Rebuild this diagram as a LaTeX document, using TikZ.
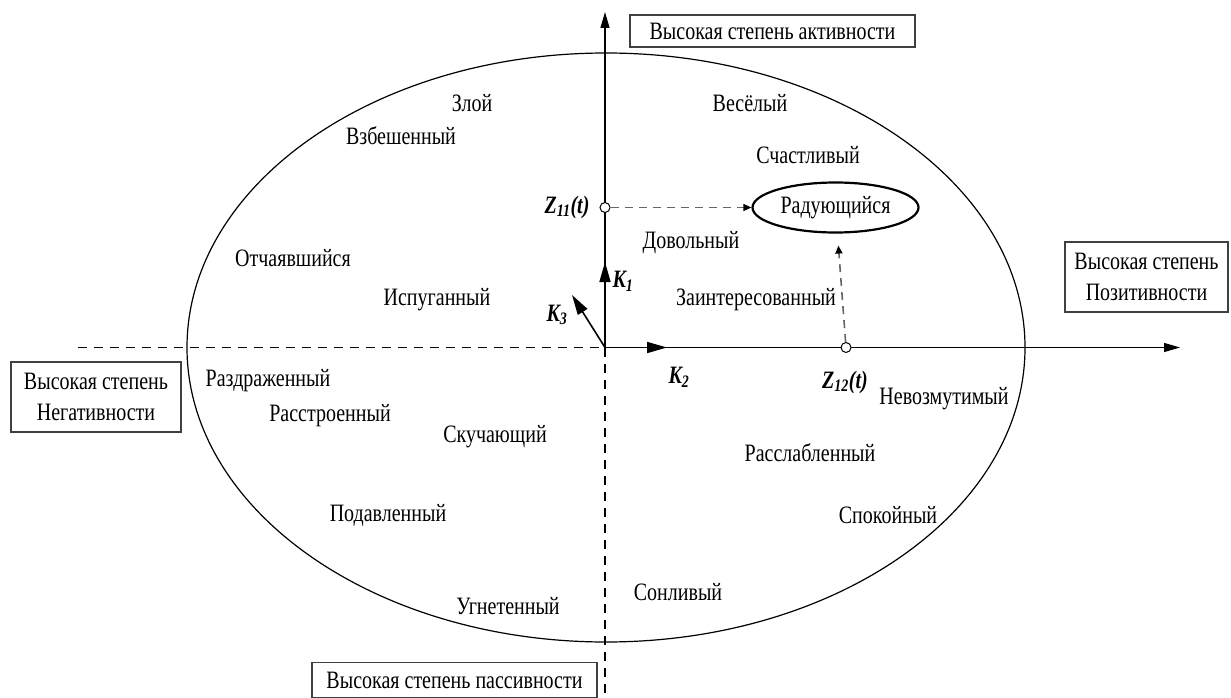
\documentclass[tikz,border=0pt]{standalone}
\usepackage{fontspec}
\setmainfont{Liberation Serif}[FakeStretch=0.8]
\usetikzlibrary{arrows.meta,shapes.geometric}

\begin{document}
\begin{tikzpicture}[x=1pt,y=1pt,yscale=-1,
  word/.style={inner sep=0.75pt, font=\fontsize{25}{28}\selectfont},
  axisbox/.style={draw=black!75, line width=1.4pt, inner sep=2pt, align=center, font=\fontsize{25}{31}\selectfont},
  kvec/.style={line width=1.6pt, -{Triangle[length=20pt,width=11pt]}},
  zpoint/.style={circle, draw, fill=white, line width=1pt, inner sep=0pt, minimum size=10pt},
  guide/.style={draw=black!60, line width=1.6pt, dash pattern={on 8pt off 6pt}, -{Triangle[length=8pt,width=7pt,black]}}]
        %set diagram size
        \useasboundingbox (0,0) rectangle (1231,698);

        %Shape: Ellipse
        \draw [line width=1.2pt] (606,347.5) ellipse [x radius=419, y radius=294.5];

        %Axes
        \coordinate (o) at (605,347.5);
        \coordinate (xl) at (78,347.5);
        \coordinate (xr) at (1180,347.5);
        \coordinate (yt) at (605,12);
        \coordinate (yb) at (605,698);
        \draw [line width=1.2pt, dash pattern={on 9pt off 7pt}] (xl) -- (o);
        \draw [line width=1.2pt, dash pattern={on 9pt off 7pt}] (o) -- (yb);
        \draw [line width=1.2pt, -{Triangle[length=16pt,width=9pt]}] (o) -- (xr);
        \draw [line width=1.2pt, -{Triangle[length=16pt,width=9pt]}] (o) -- (yt);

        %Basis vectors
        \coordinate (k1) at (605,262);
        \coordinate (k2) at (667,347.5);
        \coordinate (k3) at (572,295);
        \draw [kvec] (o) -- (k1);
        \draw [kvec] (o) -- (k2);
        \draw [kvec] (o) -- (k3);

        % Axis boxes
        \node [axisbox, minimum width=285pt, minimum height=32pt] (active) at (772.5,31) {Высокая степень активности};
        \node [axisbox, minimum width=285pt, minimum height=35pt] (passive) at (454.5,680) {Высокая степень пассивности};
        \node [axisbox, minimum width=170pt, minimum height=70pt] (negative) at (96,397) {Высокая степень\\Негативности};
        \node [axisbox, minimum width=163pt, minimum height=70pt] (positive) at (1146.5,277) {Высокая степень\\Позитивности};

        % Target state
        \node [ellipse, draw, line width=2.2pt, minimum width=166pt, minimum height=50pt, inner sep=0pt, font=\fontsize{25}{28}\selectfont] (joy) at (835.5,207.5) {Радующийся};

        % Projections
        \node [zpoint] (z11) at (605,207.5) {};
        \node [zpoint] (z12) at (846,347.5) {};
        \draw [guide] (z11) -- (joy);
        \draw [guide, shorten >=12pt] (z12) -- (joy);

        % Text Node
        \node [word] (z11l) at (567,207) {\bfseries\itshape Z\textsubscript{11}(t)};
        \node [word] (z12l) at (845,382) {\bfseries\itshape Z\textsubscript{12}(t)};
        \node [word] (k1l) at (623,281) {\bfseries\itshape K\textsubscript{1}};
        \node [word] (k2l) at (679,377) {\bfseries\itshape K\textsubscript{2}};
        \node [word] (k3l) at (557,315) {\bfseries\itshape K\textsubscript{3}};

        % Text Node
        \node [word] (angry) at (472,103) {Злой};
        \node [word] (furious) at (401,136) {Взбешенный};
        \node [word] (cheerful) at (750,103) {Весёлый};
        \node [word] (happy) at (808,155) {Счастливый};
        \node [word] (pleased) at (691,243) {Довольный};
        \node [word] (desperate) at (293,258) {Отчаявшийся};
        \node [word] (scared) at (437,300) {Испуганный};
        \node [word] (interested) at (756,300) {Заинтересованный};
        \node [word] (annoyed) at (268,381) {Раздраженный};
        \node [word] (upset) at (330,416) {Расстроенный};
        \node [word] (bored) at (495,437) {Скучающий};
        \node [word] (unperturbed) at (944,399) {Невозмутимый};
        \node [word] (relaxed) at (810,453) {Расслабленный};
        \node [word] (depressed) at (388,515) {Подавленный};
        \node [word] (calm) at (888,515) {Спокойный};
        \node [word] (oppressed) at (508,606) {Угнетенный};
        \node [word] (sleepy) at (678,592) {Сонливый};
\end{tikzpicture}
\end{document}
